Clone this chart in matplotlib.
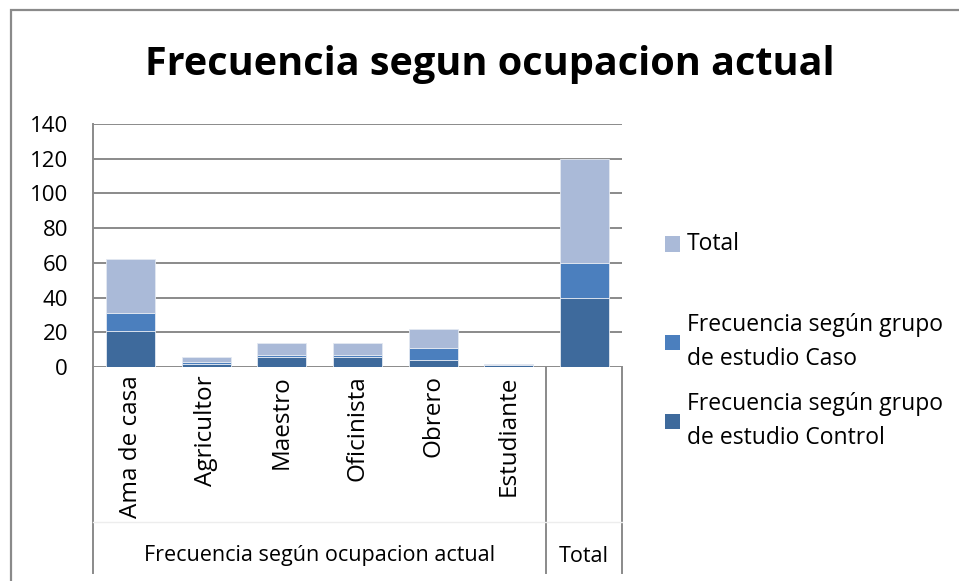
import matplotlib
matplotlib.use("Agg")
import matplotlib.pyplot as plt
from matplotlib.patches import Rectangle
from matplotlib.lines import Line2D
import numpy as np

categories = ["Ama de casa", "Agricultor", "Maestro", "Oficinista", "Obrero", "Estudiante", "Total"]
tick_labels = ["Ama de casa", "Agricultor", "Maestro", "Oficinista", "Obrero", "Estudiante", ""]
group_labels = ["Frecuencia según ocupacion actual", "Total"]
control = [21, 2, 6, 6, 4, 1, 40]
caso = [10, 1, 1, 1, 7, 0, 20]
total = [31, 3, 7, 7, 11, 1, 60]
series_names = ["Frecuencia según grupo\nde estudio Control",
                "Frecuencia según grupo\nde estudio Caso",
                "Total"]
title = "Frecuencia segun ocupacion actual"
yticks = [0, 20, 40, 60, 80, 100, 120, 140]

colors = ["#3E6A9C", "#4B7FBE", "#AABAD8"]
W, H = 959, 581
FONT = ["Open Sans", "DejaVu Sans"]
plt.rcParams["font.family"] = FONT

fig = plt.figure(figsize=(W / 100, H / 100), dpi=100)

# outer chart border
fig.add_artist(Rectangle((10.5 / W, -0.05), 1.2, 1 - 10.5 / H + 0.05,
                         transform=fig.transFigure, fill=False,
                         edgecolor="#8A8A8A", linewidth=1.6))

L, R, T, B = 93, 622, 124, 367
ax = fig.add_axes([L / W, 1 - B / H, (R - L) / W, (B - T) / H])

x = np.arange(len(categories))
bw = 0.65
c = np.array(control, float)
k = np.array(caso, float)
t = np.array(total, float)
ec = "#E3E9F2"
ax.bar(x, c, bw, color=colors[0], edgecolor=ec, linewidth=0.6, zorder=3)
ax.bar(x, k, bw, bottom=c, color=colors[1], edgecolor=ec, linewidth=0.6, zorder=3)
ax.bar(x, t, bw, bottom=c + k, color=colors[2], edgecolor=ec, linewidth=0.6, zorder=3)

ax.set_xlim(-0.5, len(categories) - 0.5)
ax.set_ylim(0, 140)
ax.set_yticks(yticks)
ax.set_yticklabels([str(v) for v in yticks], fontsize=16)
ax.yaxis.grid(True, color="#8A8A8A", linewidth=1.4, zorder=0)
ax.set_axisbelow(True)
for s in ["top", "right", "bottom"]:
    ax.spines[s].set_visible(False)
ax.spines["left"].set_color("#8A8A8A")
ax.spines["left"].set_linewidth(1.4)
ax.tick_params(axis="y", length=0, pad=18)
ax.set_xticks(x)
ax.set_xticklabels(tick_labels, rotation=90, fontsize=17.5, va="top")
ax.tick_params(axis="x", length=0, pad=6)

tr = ax.get_xaxis_transform()
ylow = (B - 573) / (B - T)
ysep = (B - 522) / (B - T)
for xv in [-0.5, 5.5, 6.5]:
    ax.add_line(Line2D([xv, xv], [0, ylow], transform=tr, color="#8A8A8A",
                       linewidth=1.4, clip_on=False))
ax.add_line(Line2D([-0.5, 6.5], [ysep, ysep], transform=tr, color="#EDEDED",
                   linewidth=1.0, clip_on=False))
ygl = (B - 556) / (B - T)
ax.text(2.5, ygl, group_labels[0], transform=tr, ha="center", va="center", fontsize=15.5)
ax.text(6.0, ygl, group_labels[1], transform=tr, ha="center", va="center", fontsize=15.5)

# title
fig.text(490 / W, 1 - 65 / H, title, ha="center", va="center", fontsize=28.5,
         fontweight="bold", family=["Liberation Sans Narrow", "Open Sans", "DejaVu Sans"])

# legend (Total, Caso, Control from top)
leg = [(2, 244), (1, 342), (0, 421)]
for idx, yc in leg:
    fig.add_artist(Rectangle((665 / W, 1 - (yc + 7.5) / H), 15 / W, 15 / H,
                             transform=fig.transFigure, facecolor=colors[idx],
                             edgecolor="none"))
    fig.text(687 / W, 1 - yc / H, series_names[idx], ha="left", va="center",
             fontsize=16.5, linespacing=1.55)

fig.savefig("out.png", dpi=100)
